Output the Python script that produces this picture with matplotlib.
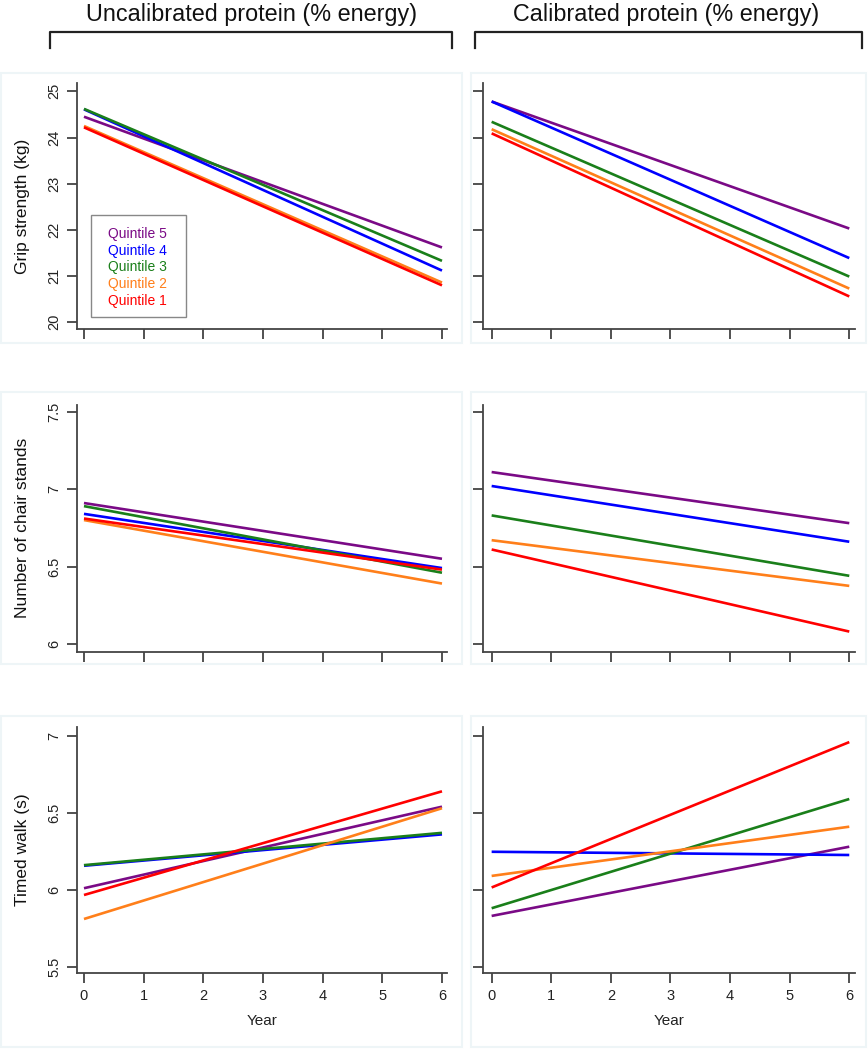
import matplotlib
matplotlib.use("Agg")
import matplotlib.pyplot as plt
from matplotlib.lines import Line2D
from matplotlib.patches import Rectangle

plt.rcParams["font.family"] = ["Liberation Sans", "DejaVu Sans"]

W, H = 868, 1050

years = [0, 6]
quintiles = ["Quintile 5", "Quintile 4", "Quintile 3", "Quintile 2", "Quintile 1"]
colors = ["#7a0a86", "#0000ff", "#1a7f1a", "#ff7f1a", "#ff0000"]

# values at year 0 and year 6, order Q5..Q1
grip_uncal = [[24.45, 21.62], [24.61, 21.12], [24.62, 21.33], [24.25, 20.86], [24.22, 20.80]]
grip_cal = [[24.78, 22.03], [24.78, 21.39], [24.34, 20.99], [24.18, 20.73], [24.09, 20.56]]
chair_uncal = [[6.91, 6.55], [6.84, 6.49], [6.89, 6.46], [6.80, 6.39], [6.81, 6.48]]
chair_cal = [[7.11, 6.78], [7.02, 6.66], [6.83, 6.44], [6.67, 6.375], [6.61, 6.08]]
walk_uncal = [[6.01, 6.54], [6.156, 6.36], [6.16, 6.37], [5.81, 6.53], [5.966, 6.64]]
walk_cal = [[5.83, 6.28], [6.247, 6.226], [5.88, 6.59], [6.09, 6.41], [6.015, 6.96]]

col_titles = ["Uncalibrated protein (% energy)", "Calibrated protein (% energy)"]
row_labels = ["Grip strength (kg)", "Number of chair stands", "Timed walk (s)"]
row_ticks = [[20, 21, 22, 23, 24, 25], [6, 6.5, 7, 7.5], [5.5, 6, 6.5, 7]]
row_tick_labels = [["20", "21", "22", "23", "24", "25"], ["6", "6.5", "7", "7.5"],
                   ["5.5", "6", "6.5", "7"]]
row_ylims = [(19.855, 25.18), (5.95, 7.543), (5.457, 7.06)]
xticks = [0, 1, 2, 3, 4, 5, 6]

data = [[grip_uncal, grip_cal], [chair_uncal, chair_cal], [walk_uncal, walk_cal]]

fig = plt.figure(figsize=(W / 100, H / 100), dpi=100)


def px_axes(left, top, right, bottom):
    return fig.add_axes([left / W, 1 - bottom / H, (right - left) / W, (bottom - top) / H])


# faint panel frames
panel_rows = [(73, 343), (392, 664), (716, 1047)]
panel_cols = [(1, 462), (471, 866)]
for (t, b) in panel_rows:
    for (l, r) in panel_cols:
        fig.add_artist(Rectangle((l / W, 1 - b / H), (r - l) / W, (b - t) / H,
                                 transform=fig.transFigure, fill=False,
                                 edgecolor="#eef5f7", lw=1.5))

# column headers with brackets
for title, cx, (bl, br) in zip(col_titles, [252, 666], [(50, 452), (475, 862)]):
    fig.text(cx / W, 1 - 15 / H, title, ha="center", va="center", fontsize=16.8, color="#111")
    fig.add_artist(Line2D([bl / W, bl / W, br / W, br / W],
                          [1 - 48 / H, 1 - 32 / H, 1 - 32 / H, 1 - 48 / H],
                          transform=fig.transFigure, color="#222", lw=1.6))

axes_rows = [(83, 329), (405, 651.7), (726.7, 973.3)]
axes_cols = [(77, 447, (-0.117, 6.084)), (483.3, 855, (-0.14, 6.096))]

for i, (top, bottom) in enumerate(axes_rows):
    for j, (left, right, xlim) in enumerate(axes_cols):
        ax = px_axes(left, top, right, bottom)
        for vals, c, q in zip(data[i][j], colors, quintiles):
            ax.plot(years, vals, color=c, lw=1.9, label=q, solid_capstyle="butt")
        ax.set_xlim(*xlim)
        ax.set_ylim(*row_ylims[i])
        ax.spines[["top", "right"]].set_visible(False)
        for s in ["left", "bottom"]:
            ax.spines[s].set_color("#444")
            ax.spines[s].set_linewidth(1.3)
        ax.tick_params(direction="out", length=7.5, width=1.2, color="#333",
                       labelsize=10.5, labelcolor="#222")
        ax.set_xticks(xticks)
        ax.set_yticks(row_ticks[i])
        if j == 0:
            ax.set_yticklabels(row_tick_labels[i], rotation=90, va="center")
            ax.set_ylabel(row_labels[i], fontsize=12.5, color="#111")
            ax.yaxis.set_label_coords(-0.127, 0.5)
        else:
            ax.set_yticklabels([])
        if i == 2:
            ax.set_xticklabels([str(x) for x in xticks])
            ax.set_xlabel("Year", fontsize=11, color="#222", labelpad=8)
        else:
            ax.set_xticklabels([])
        if i == 0 and j == 0:
            # legend box drawn separately so its size matches the original
            ax.add_patch(Rectangle((13.7 / 370, 11.7 / 246), 95.3 / 370, 102 / 246,
                                   transform=ax.transAxes, fill=True, facecolor="white",
                                   edgecolor="#888", lw=1.0, zorder=4))
            leg = ax.legend(loc="upper left", bbox_to_anchor=(31 / 370, 102 / 246),
                            borderaxespad=0, borderpad=0, handlelength=0,
                            handletextpad=0, fontsize=10, labelspacing=0.19,
                            frameon=False)
            leg.set_zorder(5)
            for h in leg.legend_handles:
                h.set_visible(False)
            for txt, c in zip(leg.get_texts(), colors):
                txt.set_color(c)
            leg._legend_box.align = "left"

fig.savefig("out.png", dpi=100)
